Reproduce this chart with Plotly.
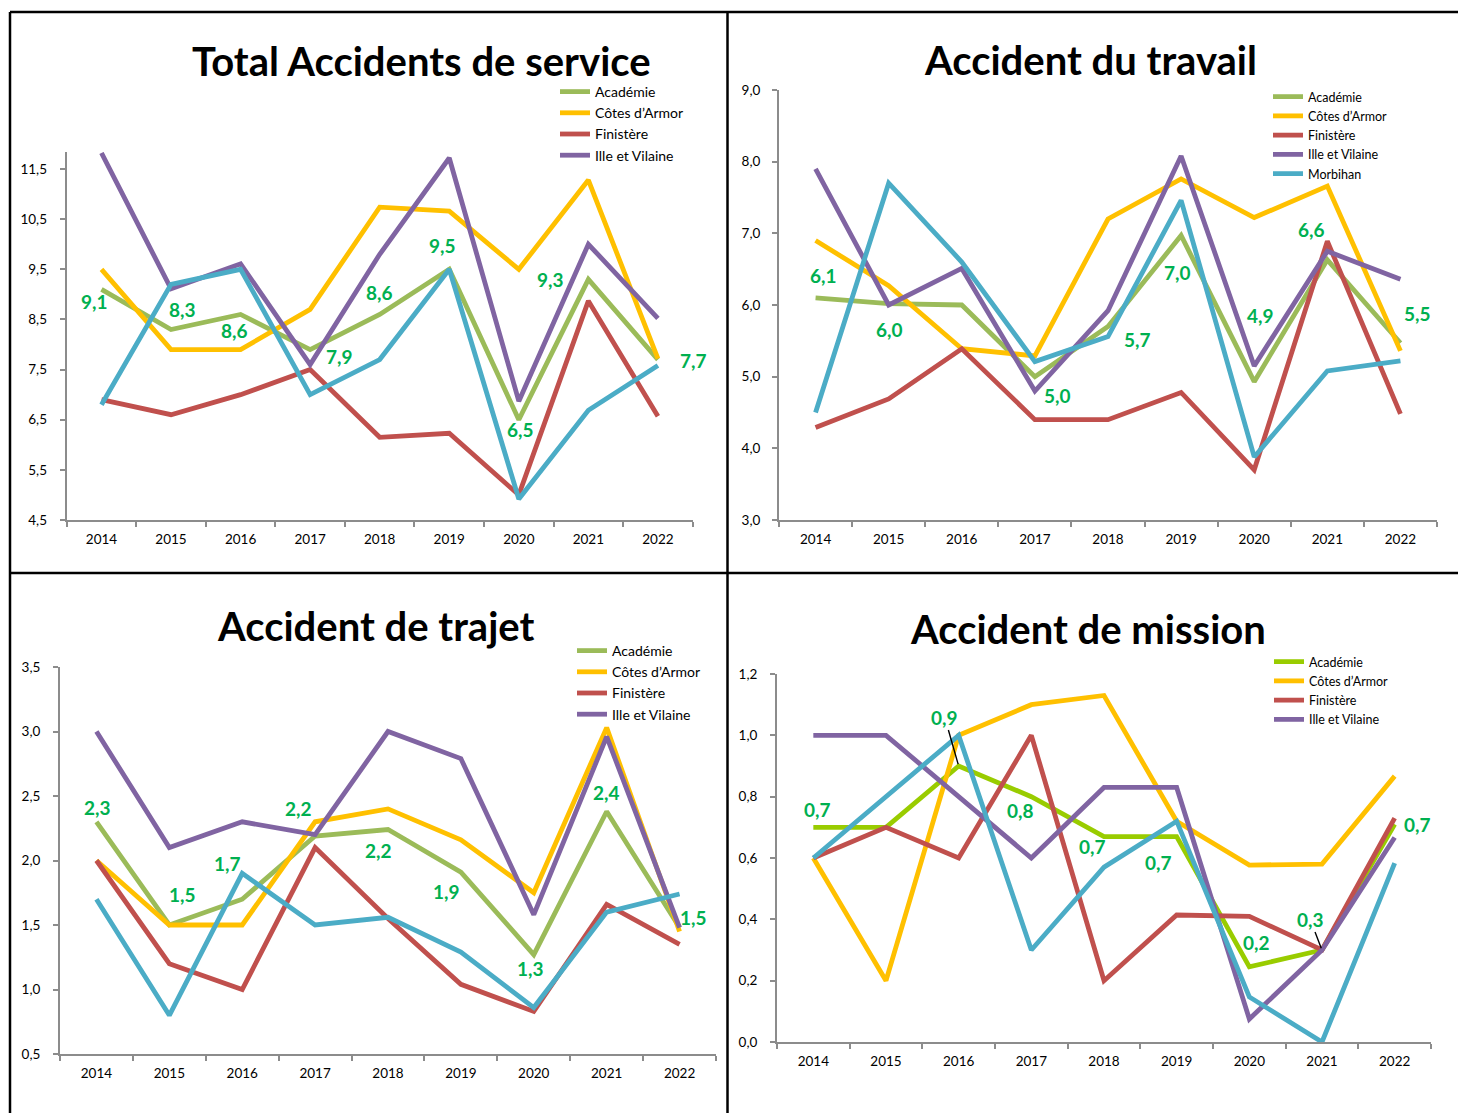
import plotly.graph_objects as go

W, H = 1458, 1113

YEARS = ["2014", "2015", "2016", "2017", "2018", "2019", "2020", "2021", "2022"]
NAMES = ["Académie", "Côtes d’Armor", "Finistère", "Ille et Vilaine", "Morbihan"]

# ---- Total Accidents de service
total_academie = [9.1, 8.3, 8.6, 7.9, 8.6, 9.5, 6.5, 9.3, 7.7]
total_cotes = [9.5, 7.9, 7.9, 8.7, 10.74, 10.66, 9.5, 11.28, 7.72]
total_finistere = [6.9, 6.6, 7.0, 7.5, 6.15, 6.23, 5.0, 8.87, 6.57]
total_ille = [11.82, 9.11, 9.61, 7.6, 9.8, 11.72, 6.87, 10.0, 8.52]
total_morbihan = [6.8, 9.2, 9.5, 7.0, 7.7, 9.5, 4.92, 6.69, 7.58]

# ---- Accident du travail
travail_academie = [6.1, 6.02, 6.0, 5.0, 5.7, 6.97, 4.93, 6.63, 5.47]
travail_cotes = [6.9, 6.27, 5.39, 5.29, 7.2, 7.76, 7.22, 7.66, 5.36]
travail_finistere = [4.29, 4.69, 5.39, 4.4, 4.4, 4.78, 3.7, 6.89, 4.48]
travail_ille = [7.9, 6.0, 6.51, 4.8, 5.92, 8.08, 5.15, 6.75, 6.36]
travail_morbihan = [4.5, 7.7, 6.6, 5.21, 5.56, 7.46, 3.88, 5.08, 5.22]

# ---- Accident de trajet
trajet_academie = [2.3, 1.5, 1.7, 2.19, 2.24, 1.91, 1.27, 2.38, 1.48]
trajet_cotes = [2.0, 1.5, 1.5, 2.3, 2.4, 2.16, 1.75, 3.03, 1.45]
trajet_finistere = [2.0, 1.2, 1.0, 2.1, 1.55, 1.04, 0.83, 1.66, 1.35]
trajet_ille = [3.0, 2.1, 2.3, 2.2, 3.0, 2.79, 1.58, 2.96, 1.48]
trajet_morbihan = [1.7, 0.8, 1.9, 1.5, 1.56, 1.29, 0.86, 1.6, 1.74]

# ---- Accident de mission
mission_academie = [0.7, 0.7, 0.9, 0.8, 0.67, 0.67, 0.245, 0.3, 0.71]
mission_cotes = [0.6, 0.2, 1.0, 1.1, 1.13, 0.72, 0.577, 0.58, 0.867]
mission_finistere = [0.6, 0.7, 0.6, 1.0, 0.2, 0.414, 0.41, 0.3, 0.73]
mission_ille = [1.0, 1.0, 0.8, 0.6, 0.83, 0.83, 0.075, 0.3, 0.667]
mission_morbihan = [0.6, 0.8, 1.0, 0.3, 0.57, 0.72, 0.147, 0.0, 0.583]

TITLES = ["Total Accidents de service", "Accident du travail",
          "Accident de trajet", "Accident de mission"]

Y_TICKS = [
    [4.5, 5.5, 6.5, 7.5, 8.5, 9.5, 10.5, 11.5],
    [3.0, 4.0, 5.0, 6.0, 7.0, 8.0, 9.0],
    [0.5, 1.0, 1.5, 2.0, 2.5, 3.0, 3.5],
    [0.0, 0.2, 0.4, 0.6, 0.8, 1.0, 1.2],
]

# ---------------- styles / layout (pixels) ----------------
FONT = "Lato, Carlito, Calibri, sans-serif"
COLORS = ["#9BBB59", "#FFC000", "#C0504D", "#8064A2", "#4BACC6"]
MISSION_ACAD_COLOR = "#99CC00"
LABEL_COLOR = "#00B050"
AXIS_COLOR = "#8C8C8C"

panels = [
    dict(data=[total_academie, total_cotes, total_finistere, total_ille, total_morbihan],
         xdom=(66.7, 692.7), ydom=(152, 520), yrange=(4.5, 11.84), nleg=4,
         title_xy=(422, 61), leg_xy=(555, 76), leg_font=14, ystand=10,
         labels={0: (-7, 12), 1: (11, -20), 2: (-6, 16), 3: (29, 7), 4: (0, -22),
                 5: (-7, -24), 6: (2, 10), 7: (-38, 0), 8: (36, 1)},
         leaders=set()),
    dict(data=[travail_academie, travail_cotes, travail_finistere, travail_ille, travail_morbihan],
         xdom=(779, 1437), ydom=(90, 520), yrange=(3.0, 9.0), nleg=5,
         title_xy=(1090, 60), leg_xy=(1268, 82), leg_font=12.5, ystand=9,
         labels={0: (8, -22), 1: (1, 26), 3: (23, 19), 4: (29, 13), 5: (-4, 37),
                 6: (6, -66), 7: (-16, -30), 8: (17, -29)},
         leaders=set()),
    dict(data=[trajet_academie, trajet_cotes, trajet_finistere, trajet_ille, trajet_morbihan],
         xdom=(60, 716), ydom=(667, 1054), yrange=(0.5, 3.5), nleg=4,
         title_xy=(375, 626), leg_xy=(572, 635), leg_font=14, ystand=10,
         labels={0: (1, -14), 1: (13, -31), 2: (-15, -36), 3: (-17, -27), 4: (-10, 21),
                 5: (-14, 19), 6: (-3, 14), 7: (0, -19), 8: (14, -10)},
         leaders=set()),
    dict(data=[mission_academie, mission_cotes, mission_finistere, mission_ille, mission_morbihan],
         xdom=(777, 1431), ydom=(674, 1042), yrange=(0.0, 1.2), nleg=4,
         title_xy=(1088, 629), leg_xy=(1269, 647), leg_font=12.5, ystand=10,
         labels={0: (4, -18), 2: (-14, -49), 3: (-11, 14), 4: (-12, 10), 5: (-18, 26),
                 6: (7, -24), 7: (-12, -31), 8: (23, 0)},
         leaders={2, 7}),
]


def px_x(v):
    return v / W


def px_y(v):
    return 1 - v / H


fig = go.Figure()
annotations = []
shapes = []

for p, panel in enumerate(panels):
    n = p + 1
    xa = "x" if n == 1 else f"x{n}"
    ya = "y" if n == 1 else f"y{n}"
    leg = "legend" if n == 1 else f"legend{n}"
    for s, (name, vals) in enumerate(zip(NAMES, panel["data"])):
        color = COLORS[s]
        if p == 3 and s == 0:
            color = MISSION_ACAD_COLOR
        fig.add_trace(go.Scatter(
            x=YEARS, y=vals, name=name, mode="lines",
            line=dict(color=color, width=4.8),
            xaxis=xa, yaxis=ya, legend=leg,
            showlegend=s < panel["nleg"],
            hoverinfo="skip",
        ))
    # data labels (Académie series)
    acad = panel["data"][0]
    label_font = dict(family=FONT, size=19, color=LABEL_COLOR, weight="bold")
    for i, (dx, dy) in panel["labels"].items():
        txt = f"{acad[i]:.1f}".replace(".", ",")
        if i in panel["leaders"]:
            annotations.append(dict(
                x=i, y=acad[i], xref=xa, yref=ya, text=txt,
                showarrow=True, arrowhead=0, arrowwidth=1.4, arrowcolor="black",
                ax=dx, ay=dy, axref="pixel", ayref="pixel", standoff=2,
                font=label_font))
        else:
            annotations.append(dict(
                x=i, y=acad[i], xref=xa, yref=ya, text=txt,
                showarrow=False, xshift=dx, yshift=-dy,
                font=label_font))
    # title
    tx, ty = panel["title_xy"]
    annotations.append(dict(
        x=px_x(tx), y=px_y(ty), xref="paper", yref="paper", text=TITLES[p],
        showarrow=False, xanchor="center", yanchor="middle",
        font=dict(family=FONT, size=40, color="black", weight="bold")))
    # axes
    x0, x1 = panel["xdom"]
    yt, yb = panel["ydom"]
    axis_common = dict(showline=True, linecolor=AXIS_COLOR, linewidth=2,
                       ticks="outside", ticklen=5, tickwidth=2, tickcolor=AXIS_COLOR,
                       showgrid=False, zeroline=False, fixedrange=True,
                       tickfont=dict(family=FONT, size=13.5, color="black"))
    fig.layout[("xaxis" if n == 1 else f"xaxis{n}")] = dict(
        axis_common, type="category", categoryorder="array", categoryarray=YEARS,
        range=[-0.5, 8.5], tickson="boundaries", anchor=ya,
        domain=[px_x(x0), px_x(x1)], ticklabelstandoff=6)
    fig.layout[("yaxis" if n == 1 else f"yaxis{n}")] = dict(
        axis_common, range=list(panel["yrange"]), tickvals=Y_TICKS[p],
        tickformat=".1f", anchor=xa, domain=[px_y(yb), px_y(yt)],
        ticklabelstandoff=panel["ystand"])
    lx, ly = panel["leg_xy"]
    fig.layout[leg] = dict(
        x=px_x(lx), y=px_y(ly), xanchor="left", yanchor="top",
        bgcolor="rgba(0,0,0,0)", borderwidth=0, tracegroupgap=0,
        font=dict(family=FONT, size=panel["leg_font"], color="black"),
        itemclick=False, itemdoubleclick=False)

# panel borders
border = dict(type="line", xref="paper", yref="paper", line=dict(color="black", width=2.5))
shapes.append(dict(border, x0=px_x(10), x1=1, y0=px_y(12), y1=px_y(12)))
shapes.append(dict(border, x0=px_x(10), x1=px_x(10), y0=px_y(12), y1=0))
shapes.append(dict(border, x0=px_x(727.5), x1=px_x(727.5), y0=px_y(12), y1=0))
shapes.append(dict(border, x0=px_x(10), x1=1, y0=px_y(573), y1=px_y(573)))

fig.update_layout(
    width=W, height=H,
    margin=dict(l=0, r=0, t=0, b=0, pad=0, autoexpand=False),
    paper_bgcolor="white", plot_bgcolor="white",
    separators=", ", annotations=annotations, shapes=shapes,
    font=dict(family=FONT, color="black"),
)

fig.write_html(
    "out.html",
    config={"displayModeBar": False},
    post_script="document.body.style.margin='0';document.body.style.overflow='hidden';",
)
